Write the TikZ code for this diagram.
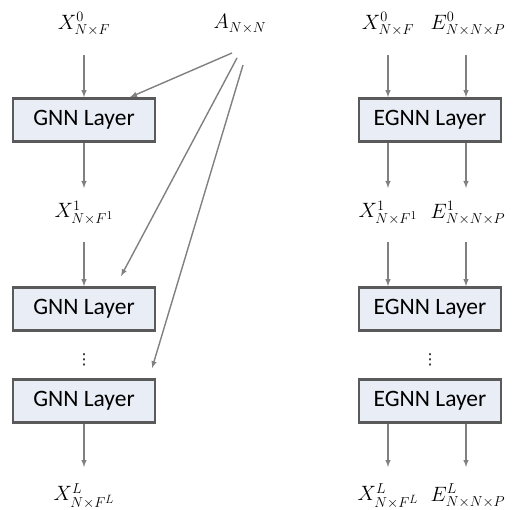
\documentclass[tikz,border=0pt]{standalone}
\usepackage{fontspec}
\setmainfont{Carlito}
\newfontfamily\symfont{DejaVu Sans}
\usetikzlibrary{arrows, positioning, calc}
\definecolor{lfill}{HTML}{E9EDF5}
\definecolor{ledge}{HTML}{5A5A5A}
\definecolor{lwire}{HTML}{808080}
\tikzstyle{layer} = [rectangle, draw = ledge, line width = 2.6pt, fill = lfill, minimum width = 142pt, minimum height = 43pt, text centered, font = \fontsize{23.5}{27}\selectfont]
\tikzstyle{feat} = [inner sep = 0pt, font = \fontsize{20.74}{24}\selectfont]
\tikzstyle{skip} = [inner sep = 0pt, font = \symfont\fontsize{15}{18}\selectfont]
\tikzstyle{wire} = [line width = 1.4pt, draw = lwire, ->, >=latex]

\begin{document}
\begin{tikzpicture}[x=1pt, y=-1pt]
  \useasboundingbox (0,0) rectangle (516,510);
  % left: plain GNN
  \node (x0) [feat] at (84,24) {$X^{0}_{N\times F}$};
  \node (adj) [feat] at (240,24) {$A_{N\times N}$};
  \node (gnn1) [layer] at (84,120) {GNN Layer};
  \node (x1) [feat] at (84,213) {$X^{1}_{N\times F^{1}}$};
  \node (gnn2) [layer] at (84,309) {GNN Layer};
  \node (ldots) [skip] at (84,360) {⋮};
  \node (gnn3) [layer] at (84,401) {GNN Layer};
  \node (xl) [feat] at (84,496) {$X^{L}_{N\times F^{L}}$};
  \coordinate (a1) at (232,53);
  \coordinate (a2) at (237,58);
  \coordinate (a3) at (243,65);
  \draw [wire] ($(x0)+(0,31)$) -- (gnn1.north);
  \draw [wire] (gnn1.south) -- ($(x1)+(0,-25)$);
  \draw [wire] ($(x1)+(0,29)$) -- (gnn2.north);
  \draw [wire] (gnn3.south) -- ($(xl)+(0,-29)$);
  \draw [wire] (a1) -- ($(gnn1.north)+(46,0)$);
  \draw [wire] (a2) -- ($(gnn2.north)+(37,-10)$);
  \draw [wire] (a3) -- ($(gnn3.north)+(68,-10)$);
  % right: edge-aware GNN
  \node (ex0) [feat] at (388,24) {$X^{0}_{N\times F}$};
  \node (ee0) [feat] at (468,24) {$E^{0}_{N\times N\times P}$};
  \node (egnn1) [layer] at (430,120) {EGNN Layer};
  \node (ex1) [feat] at (388,213) {$X^{1}_{N\times F^{1}}$};
  \node (ee1) [feat] at (468,213) {$E^{1}_{N\times N\times P}$};
  \node (egnn2) [layer] at (430,309) {EGNN Layer};
  \node (rdots) [skip] at (430,360) {⋮};
  \node (egnn3) [layer] at (430,401) {EGNN Layer};
  \node (exl) [feat] at (388,496) {$X^{L}_{N\times F^{L}}$};
  \node (eel) [feat] at (468,496) {$E^{L}_{N\times N\times P}$};
  \draw [wire] ($(ex0)+(0,31)$) -- (ex0 |- egnn1.north);
  \draw [wire] ($(ee0)+(-2,31)$) -- ($(ee0 |- egnn1.north)+(-2,0)$);
  \draw [wire] (ex1 |- egnn1.south) -- ($(ex1)+(0,-25)$);
  \draw [wire] ($(ee1 |- egnn1.south)+(-2,0)$) -- ($(ee1)+(-2,-25)$);
  \draw [wire] ($(ex1)+(0,29)$) -- (ex1 |- egnn2.north);
  \draw [wire] ($(ee1)+(-2,29)$) -- ($(ee1 |- egnn2.north)+(-2,0)$);
  \draw [wire] (exl |- egnn3.south) -- ($(exl)+(0,-29)$);
  \draw [wire] ($(eel |- egnn3.south)+(-2,0)$) -- ($(eel)+(-2,-29)$);
\end{tikzpicture}
\end{document}
